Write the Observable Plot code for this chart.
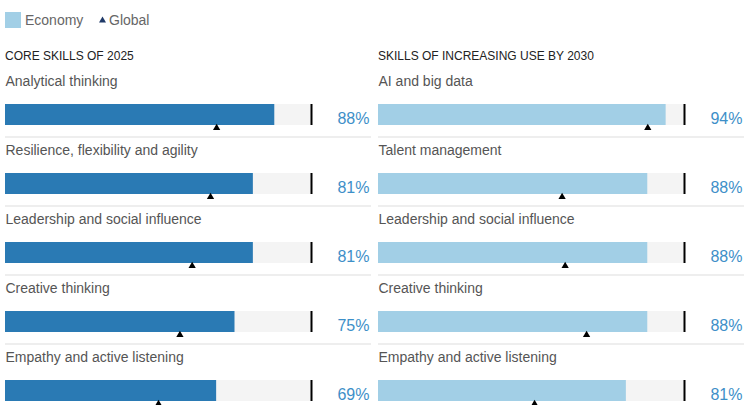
<!DOCTYPE html>
<html><head><meta charset="utf-8">
<script src="https://cdn.jsdelivr.net/npm/d3@7"></script>
<script src="https://cdn.jsdelivr.net/npm/@observablehq/plot@0.6"></script>
<style>
body{margin:0;background:#fff;font-family:"Liberation Sans",Arial,sans-serif;width:747px;height:405px;overflow:hidden}
#legend{height:40px;position:relative;font-size:14px;color:#666}
#legend .sw{position:absolute;left:5px;top:12px;width:16px;height:16px;background:#a2cfe6}
#legend .lab{position:absolute;top:12px;line-height:16px}
#legend svg{position:absolute;left:99px;top:16px}
#panels{display:flex}
.title{height:28px;line-height:32px;font-size:12px;color:#222;padding-left:5px;white-space:nowrap}
</style></head><body>
<div id="legend">
  <div class="sw"></div><div class="lab" style="left:25px">Economy</div>
  <svg width="7" height="7"><polygon points="3.5,0.5 7,6.5 0,6.5" fill="#1f3a68"/></svg>
  <div class="lab" style="left:109px">Global</div>
</div>
<div id="panels"></div>
<script>
const panelTitles = ["CORE SKILLS OF 2025", "SKILLS OF INCREASING USE BY 2030"];
const coreSkills = ["Analytical thinking", "Resilience, flexibility and agility", "Leadership and social influence", "Creative thinking", "Empathy and active listening"];
const coreEconomy = [88, 81, 81, 75, 69];
const coreGlobal = [69, 67, 61, 57, 50];
const useSkills = ["AI and big data", "Talent management", "Leadership and social influence", "Creative thinking", "Empathy and active listening"];
const useEconomy = [94, 88, 88, 88, 81];
const useGlobal = [88, 60, 61, 68, 51];
const scaleMax = 100;

function panel(title, skills, econ, glob, color, w) {
  const data = skills.map((s, i) => ({skill: s, economy: econ[i], global: glob[i], max: scaleMax}));
  const div = document.createElement("div");
  div.style.width = w + "px";
  const t = document.createElement("div");
  t.className = "title";
  t.textContent = title;
  div.append(t);
  const bandH = 69;
  const plot = Plot.plot({
    width: w, height: bandH * skills.length,
    marginLeft: 5, marginRight: w - 311, marginTop: 0, marginBottom: 0,
    x: {domain: [0, scaleMax], axis: null},
    y: {domain: skills, axis: null, padding: 0},
    style: {fontFamily: "Liberation Sans, Arial, sans-serif", background: "transparent", overflow: "visible"},
    marks: [
      Plot.ruleY(data, {y: "skill", dy: 34, stroke: "#eeeeee", strokeWidth: 2, insetRight: -60}),
      Plot.barX(data, {x: "max", y: "skill", fill: "#f4f4f4", insetTop: 36, insetBottom: 12}),
      Plot.barX(data, {x: "economy", y: "skill", fill: color, insetTop: 36, insetBottom: 12}),
      Plot.tickX(data, {x: "max", y: "skill", stroke: "#000", strokeWidth: 2, insetTop: 36, insetBottom: 12}),
      Plot.dot(data, {x: "global", y: "skill", symbol: "triangle", r: 2.7, fill: "#000", stroke: null, dy: 25}),
      Plot.text(data, {y: "skill", text: "skill", frameAnchor: "left", textAnchor: "start", dy: -21.5, fontSize: 14, fill: "#555"}),
      Plot.text(data, {y: "skill", text: d => d.economy + "%", frameAnchor: "right", textAnchor: "end", dx: 58, dy: 15.5, fontSize: 16, fill: "#3d8fc8"})
    ]
  });
  div.append(plot);
  return div;
}
const panels = document.getElementById("panels");
panels.append(panel(panelTitles[0], coreSkills, coreEconomy, coreGlobal, "#2a7ab4", 373));
panels.append(panel(panelTitles[1], useSkills, useEconomy, useGlobal, "#a2cfe6", 374));
</script>
</body></html>
